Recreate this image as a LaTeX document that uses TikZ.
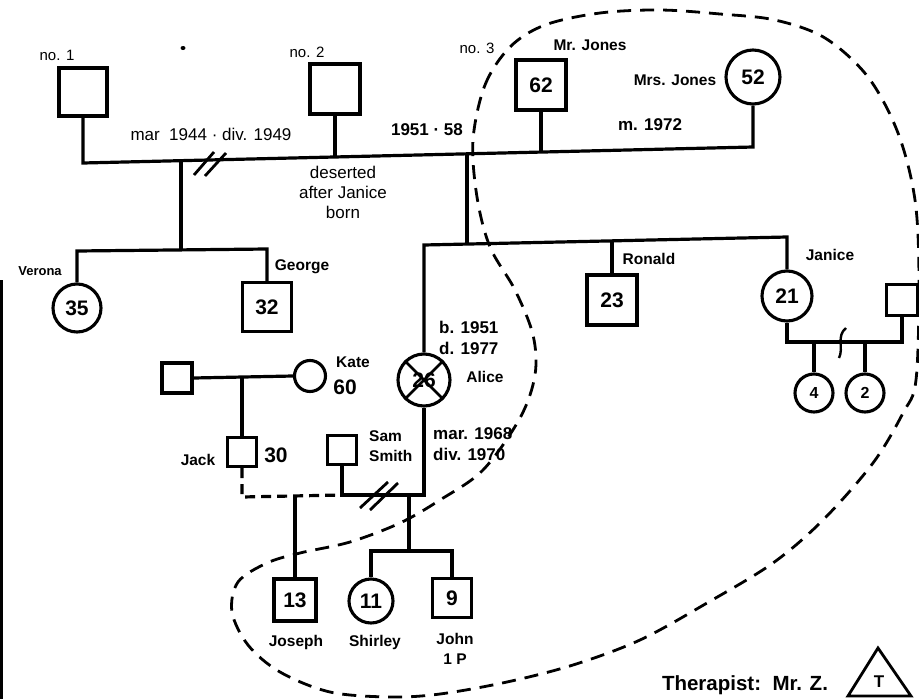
\documentclass[tikz,border=0pt]{standalone}
\usepackage{fontspec}
\setmainfont{Liberation Sans}
\newcommand\numf{\bfseries\fontsize{21}{21}\selectfont}
\newcommand\smallnumf{\bfseries\fontsize{16}{16}\selectfont}
\newcommand\namef{\bfseries\fontsize{15.5}{20}\selectfont}
\newcommand\yearf{\bfseries\fontsize{17}{21}\selectfont}
\newcommand\regf{\fontsize{17}{20}\selectfont}
\newcommand\nof{\fontsize{15}{16}\selectfont}
\newcommand\verf{\bfseries\fontsize{13}{14}\selectfont}
\newcommand\therf{\bfseries\fontsize{20.5}{22}\selectfont}
\newcommand\tf{\bfseries\fontsize{17}{17}\selectfont}
\begin{document}
\begin{tikzpicture}[x=1pt,y=-1pt,
  ln/.style={line width=3.2pt},
  dl/.style={line width=2.8pt, dash pattern=on 14pt off 9pt},
  sqb/.style={draw, line width=3.1pt, minimum size=#1, inner sep=0pt, font=\numf},
  cir/.style={circle, draw, line width=3.1pt, minimum size=#1, inner sep=0pt, font=\numf},
  tx/.style={inner sep=0pt, font=\namef},
  yr/.style={inner sep=0pt, font=\yearf, align=left},
  rg/.style={inner sep=0pt, font=\regf, align=center},
  slash/.style={line width=2.8pt}]
\useasboundingbox (0,0) rectangle (919,699);
\fill[white] (0,0) rectangle (919,699);

% left scan edge
\draw[line width=2.5pt] (1.5,280) -- (1.5,699);
% small dot
\fill (183,48) ellipse (2.5pt and 2pt);

% people
\node[sqb=48] (no1) at (83,92) {};
\node[sqb=50] (no2) at (335,89) {};
\node[sqb=50] (mrj) at (541,85) {62};
\node[cir=54] (mrsj) at (753,77) {52};
\node[cir=48] (verona) at (77,308) {35};
\node[sqb=49] (george) at (267,307) {32};
\node[cir=52] (alice) at (424,380) {26};
\node[sqb=50] (ronald) at (612,300) {23};
\node[cir=50] (janice) at (787,296) {21};
\node[sqb=31] (jhus) at (902,300) {};
\node[cir=38, font=\smallnumf] (c4) at (814,393) {4};
\node[cir=38, font=\smallnumf] (c2) at (865,393) {2};
\node[sqb=30] (kdad) at (177,378) {};
\node[cir=31] (kate) at (310,376) {};
\node[sqb=29] (jack) at (242,452) {};
\node[sqb=29] (sam) at (342,450) {};
\node[sqb=42] (joseph) at (295,600) {13};
\node[cir=44] (shirley) at (371,601) {11};
\node[sqb=39] (john) at (452,598) {9};

% junction coordinates
\coordinate (m1) at (83,163);
\coordinate (m2) at (335,157);
\coordinate (m3) at (467,154);
\coordinate (m4) at (541,152);
\coordinate (m5) at (753,147);
\coordinate (vg) at (181,161);
\coordinate (vgb) at (181,250);
\coordinate (vl) at (77,251);
\coordinate (gr) at (267,249);
\coordinate (s3) at (467,244);
\coordinate (sa) at (424,245);
\coordinate (sr) at (612,241);
\coordinate (sj) at (787,237);
\coordinate (jl) at (787,342);
\coordinate (jr) at (902,342);
\coordinate (j4) at (814,342);
\coordinate (j2) at (865,342);
\coordinate (kj) at (242,377);
\coordinate (jd) at (242,497);
\coordinate (js) at (342,495);
\coordinate (jo) at (295,496);
\coordinate (sa2) at (424,495);
\coordinate (ch) at (409,495);
\coordinate (chb) at (409,551);
\coordinate (chl) at (371,551);
\coordinate (chr) at (452,551);

% connectors
\draw[ln] (no1.south) -- (m1) -- (m5) -- (mrsj.south);
\draw[ln] (no2.south) -- (m2);
\draw[ln] (mrj.south) -- (m4);
\draw[ln] (vg) -- (vgb);
\draw[ln] (verona.north) -- (vl) -- (gr) -- (george.north);
\draw[ln] (m3) -- (s3);
\draw[ln] (alice.north) -- (sa) -- (sj) -- (janice.north);
\draw[ln] (sr) -- (ronald.north);
\draw[line width=2.6pt] (alice.north west) -- (alice.south east) (alice.north east) -- (alice.south west);
\draw[ln] (janice.south) -- (jl) -- (jr) -- (jhus.south);
\draw[ln] (j4) -- (c4.north);
\draw[ln] (j2) -- (c2.north);
\draw[line width=2.4pt] (846,328) .. controls (836,336) and (844,348) .. (839,358);
\draw[ln] (kdad.east) -- (kate.west);
\draw[ln] (kj) -- (jack.north);
\draw[ln, dash pattern=on 10pt off 6pt] (jack.south) -- (jd) -- (js);
\draw[ln] (jo) -- (joseph.north);
\draw[ln] (sam.south) -- (js) -- (sa2) -- (alice.south);
\draw[ln] (ch) -- (chb);
\draw[ln] (shirley.north) -- (chl) -- (chr) -- (john.north);

% divorce slashes
\draw[slash] (194,175) -- (214,152) (205,176) -- (226,153);
\draw[slash] (360,508) -- (388,482) (370,510) -- (398,483);

% labels
\node[tx, font=\nof] (l1) at (57,55) {no. 1};
\node[tx, font=\nof] (l2) at (307,52) {no. 2};
\node[tx, font=\nof] (l3) at (477,48) {no. 3};
\node[tx] (lmrj) at (590,45) {Mr. Jones};
\node[tx] (lmrsj) at (675,80) {Mrs. Jones};
\node[yr] (lm72) at (650,125) {m. 1972};
\node[yr] (l5158) at (427,130) {1951 · 58};
\node[rg] (lmar) at (211,134) {mar\ \ 1944 · div. 1949};
\node[rg] (ldes) at (343,192) {deserted\\after Janice\\born};
\node[tx, font=\verf] (lver) at (40,271) {Verona};
\node[tx] (lgeo) at (302,267) {George};
\node[tx] (lron) at (649,259) {Ronald};
\node[tx] (ljan) at (830,255) {Janice};
\node[yr, anchor=west] (lbd) at (439,338) {b. 1951\\d. 1977};
\node[tx] (lal) at (485,377) {Alice};
\node[yr, anchor=west] (lmd) at (433,444) {mar. 1968\\div. 1970};
\node[tx] (lkate) at (353,362) {Kate};
\node[tx, font=\numf] (l60) at (345,387) {60};
\node[tx] (ljack) at (198,460) {Jack};
\node[tx, font=\numf] (l30) at (276,455) {30};
\node[tx, align=left, anchor=west] (lsam) at (369,446) {Sam\\Smith};
\node[tx] (ljos) at (296,642) {Joseph};
\node[tx] (lshi) at (375,642) {Shirley};
\node[tx, align=center] (ljohn) at (455,649) {John\\1 P};
\node[tx, font=\therf] (lther) at (745,685) {Therapist:\ \ Mr. Z.};
\node[tx, font=\tf] (tT) at (879,682) {T};
\draw[line width=2.8pt, line join=miter] (848,696) -- (878,648) -- (911,696) -- cycle;

% family-interview boundary
\draw[dl] plot[smooth cycle, tension=0.55] coordinates {
 (473,140) (485,85) (510,47) (545,25) (600,13) (660,10) (720,14) (775,20)
 (825,38) (868,77) (898,133) (915,200) (919,280) (916,380) (903,413)
 (873,463) (823,520) (773,563) (707,603) (640,640) (573,665) (507,682)
 (440,694) (390,697) (330,692) (280,672) (248,645) (232,612) (238,582)
 (267,563) (300,553) (350,542) (400,523) (440,500) (483,470) (520,418)
 (535,375) (533,335) (515,290) (490,247) (477,197)};
\end{tikzpicture}
\end{document}
